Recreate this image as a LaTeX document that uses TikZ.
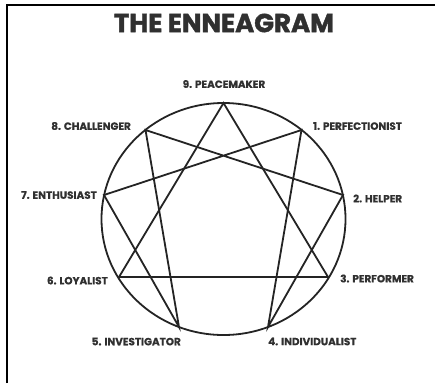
\documentclass[tikz,border=0pt]{standalone}
\usepackage{fontspec}
\setmainfont{Poppins}[BoldFeatures={FakeBold=0.6}]
\newfontfamily\titlefont{Poppins}[BoldFeatures={FakeBold=1.6}]
\definecolor{ink}{HTML}{242424}
\definecolor{txt}{HTML}{303030}
\tikzset{
  edge/.style={draw=ink, line width=1.8pt, line join=miter},
  lab/.style={inner sep=0pt, text=txt, font=\bfseries\fontsize{10.4pt}{11pt}\selectfont},
  ttl/.style={inner sep=0pt, text=txt, font=\titlefont\bfseries\fontsize{26pt}{26pt}\selectfont}
}
\begin{document}
\begin{tikzpicture}[x=1pt,y=-1pt]
\useasboundingbox (0,0) rectangle (435,383);
\fill[white] (0,0) rectangle (435,383);
\draw[line width=2pt,black] (6.7,383) -- (6.7,4.8) -- (435,4.8);
\node[ttl] (title) at (224,23) {THE ENNEAGRAM};
% vertices
\coordinate (v9) at (223.5,103);
\coordinate (v1) at (301.5,130);
\coordinate (v2) at (343,195);
\coordinate (v3) at (328,277);
\coordinate (v4) at (268,327);
\coordinate (v5) at (179,327);
\coordinate (v6) at (119,277);
\coordinate (v7) at (104,195);
\coordinate (v8) at (145.5,130);
\draw[edge] (223.5,219) ellipse [x radius=122pt, y radius=116pt];
\draw[edge] (v9) -- (v3) -- (v6) -- cycle;
\draw[edge] (v1) -- (v4) -- (v2) -- (v8) -- (v5) -- (v7) -- cycle;
% labels
\node[lab] (l9) at (224,84) {9. PEACEMAKER};
\node[lab, anchor=west] (l1) at (313,126) {1. PERFECTIONIST};
\node[lab, anchor=east] (l8) at (131,126) {8. CHALLENGER};
\node[lab, anchor=east] (l7) at (97,195) {7. ENTHUSIAST};
\node[lab, anchor=west] (l2) at (353,198.5) {2. HELPER};
\node[lab, anchor=east] (l6) at (108,280.5) {6. LOYALIST};
\node[lab, anchor=west] (l3) at (340,278.5) {3. PERFORMER};
\node[lab, anchor=east] (l5) at (181,341.5) {5. INVESTIGATOR};
\node[lab, anchor=west] (l4) at (268,341.5) {4. INDIVIDUALIST};
\end{tikzpicture}
\end{document}
